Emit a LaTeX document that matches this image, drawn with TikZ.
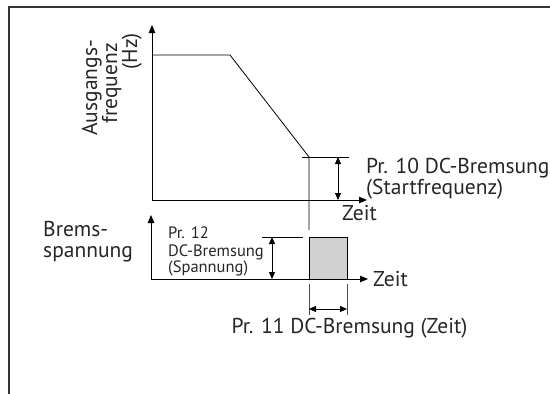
\documentclass[tikz,border=0pt]{standalone}
\usepackage{fontspec}
\setmainfont{PT Sans}
\usetikzlibrary{arrows.meta}
\begin{document}
\begin{tikzpicture}[x=1pt,y=-1pt,
  axis/.style={line width=0.95pt,{Triangle[length=8pt,width=6.5pt]}-{Triangle[length=8pt,width=6.5pt]}},
  curve/.style={line width=0.8pt},
  dim/.style={line width=0.8pt,{Triangle[length=7pt,width=6pt]}-{Triangle[length=7pt,width=6pt]}},
  lbl/.style={font=\fontsize{21.5}{25}\selectfont, inner sep=0pt, text=black!85},
  small/.style={font=\fontsize{16.5}{19}\selectfont, inner sep=0pt, text=black!85}]
\useasboundingbox (0,0) rectangle (550,394);
\draw[line width=1.5pt, black!80] (550,7) -- (9,7) -- (9,394);
% upper chart
\draw[axis] (152,25) -- (152,200) -- (367,200);
\draw[curve] (152,55) -- (230,55) -- (309,157) -- (309,230);
\draw[curve] (302,157) -- (349,157);
\draw[dim] (338,157) -- (338,200);
\node[lbl, rotate=90, anchor=base east] (a1) at (97,40) {Ausgangs-};
\node[lbl, rotate=90, anchor=base east] (a2) at (117,43) {frequenz};
\node[lbl, rotate=90, anchor=base east] (a3) at (137,33) {(Hz)};
\node[lbl, anchor=base west] (p10a) at (366,173) {Pr. 10 DC-Bremsung};
\node[lbl, anchor=base west] (p10b) at (366,194) {(Startfrequenz)};
\node[lbl, anchor=base west] (z1) at (342,220) {Zeit};
% lower chart
\draw[axis] (151,215) -- (151,279) -- (368,279);
\filldraw[fill=black!18, curve] (309,279) -- (309,237) -- (347,237) -- (347,279);
\draw[curve] (262,237) -- (303,237);
\draw[dim] (272,237) -- (272,279);
\draw[curve, black!70] (309,284) -- (309,315);
\draw[curve, black!70] (347,284) -- (347,315);
\draw[dim] (309,309) -- (347,309);
\node[lbl, anchor=base west] (b1) at (43,236) {Brems-};
\node[lbl, anchor=base west] (b2) at (43,257) {spannung};
\node[small, anchor=base west] (s1) at (168,238) {Pr. 12};
\node[small, anchor=base west] (s2) at (168,256) {DC-Bremsung};
\node[small, anchor=base west] (s3) at (168,272) {(Spannung)};
\node[lbl, anchor=base west] (z2) at (373,286) {Zeit};
\node[lbl, anchor=base] (p11) at (349.5,333) {Pr. 11 DC-Bremsung (Zeit)};
\end{tikzpicture}
\end{document}
